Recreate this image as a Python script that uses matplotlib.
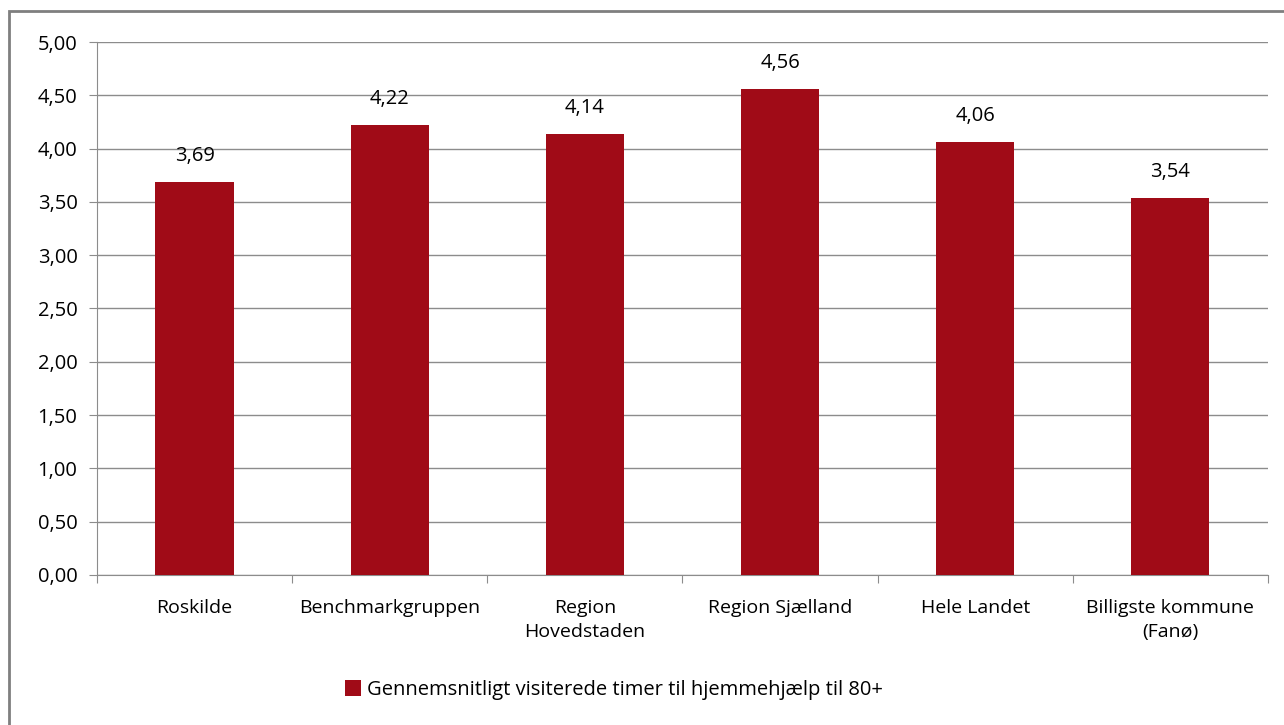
import matplotlib.pyplot as plt
import numpy as np
from matplotlib.patches import Rectangle
from matplotlib.ticker import FuncFormatter

categories = ["Roskilde", "Benchmarkgruppen", "Region\nHovedstaden",
              "Region Sjælland", "Hele Landet", "Billigste kommune\n(Fanø)"]
values = [3.69, 4.22, 4.14, 4.56, 4.06, 3.54]
series_name = "Gennemsnitligt visiterede timer til hjemmehjælp til 80+"
yticks = [0, 0.5, 1, 1.5, 2, 2.5, 3, 3.5, 4, 4.5, 5]

bar_color = "#A00B17"
grid_color = "#8C8C8C"

plt.rcParams['font.family'] = ['Open Sans', 'DejaVu Sans']

fig = plt.figure(figsize=(12.84, 7.25), dpi=100)
ax = fig.add_axes([0.0755, 0.207, 0.912, 0.735])

x = np.arange(len(categories))
bars = ax.bar(x, values, width=0.4, color=bar_color, label=series_name, zorder=3)

# value labels
for xi, v in zip(x, values):
    ax.text(xi, v + 0.15, "{:.2f}".format(v).replace(".", ","),
            ha="center", va="bottom", fontsize=14.5)

ax.set_xlim(-0.5, len(categories) - 0.5)
ax.set_ylim(0, 5)
ax.set_yticks(yticks)
ax.yaxis.set_major_formatter(FuncFormatter(lambda v, p: "{:.2f}".format(v).replace(".", ",")))
ax.grid(axis="y", color=grid_color, linewidth=1, zorder=0)

# category labels between boundary ticks
ax.set_xticks(np.arange(len(categories) + 1) - 0.5)
ax.set_xticklabels([])
ax.set_xticks(x, minor=True)
ax.set_xticklabels(categories, minor=True, fontsize=14, linespacing=1.45)
ax.tick_params(axis="x", which="minor", length=0, pad=17)
ax.tick_params(axis="x", which="major", length=6, color=grid_color)
ax.tick_params(axis="y", length=6, color=grid_color, labelsize=14.5, pad=8)

for s in ["top", "right"]:
    ax.spines[s].set_visible(False)
for s in ["left", "bottom"]:
    ax.spines[s].set_color(grid_color)

leg = fig.legend(loc="center", bbox_to_anchor=(0.478, 0.048), frameon=False,
                 fontsize=14.5, handlelength=0.8, handleheight=0.8, handletextpad=0.3)

# outer chart border
fig.patches.append(Rectangle((0.007, -0.01), 1.2, 0.995, transform=fig.transFigure,
                             fill=False, edgecolor="#7F7F7F", linewidth=2))

fig.savefig("out.png", dpi=100)
